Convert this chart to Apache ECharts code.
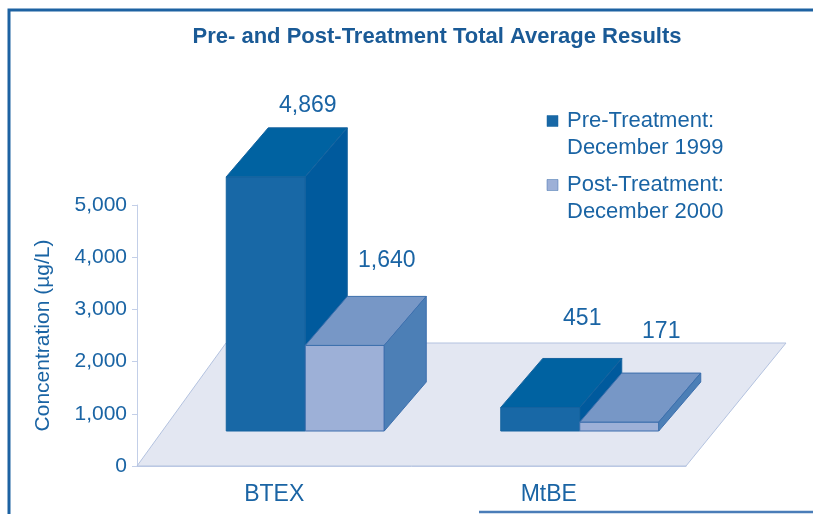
<!DOCTYPE html>
<html>
<head>
<meta charset="utf-8">
<script src="https://cdn.jsdelivr.net/npm/echarts@6/dist/echarts.min.js"></script>
<style>
  html, body { margin: 0; padding: 0; background: #fff; }
  #chart { width: 813px; height: 514px; }
</style>
</head>
<body>
<div id="chart"></div>
<script>
// values
const categories = ['BTEX', 'MtBE'];
const preValues = [4869, 451];
const postValues = [1640, 171];
const seriesNames = ['Pre-Treatment:\nDecember 1999', 'Post-Treatment:\nDecember 2000'];

const FONT = "'Liberation Sans', Arial, sans-serif";
const TXT = '#1a64a4';

// box look: [front, top, side, edge]
const boxColors = [
  ['#1868a6', '#0062a1', '#005a9d', '#15639f'],
  ['#9db0d7', '#7797c6', '#4c7fb6', '#3c6fad']
];
const boxShift = [-48, 31];   // front-left x from category centre
const BOX_W = 79, DX = 42, DY = -49, LIFT = 35;

const chart = echarts.init(document.getElementById('chart'));

function floorItem(params, api) {
  const cs = params.coordSys;
  const yb = cs.y + cs.height, xl = cs.x, xr = cs.x + cs.width;
  return {
    type: 'polygon',
    silent: true,
    shape: { points: [[xl, yb], [xr, yb], [xr + 100, yb - 123], [xl + 89, yb - 123]] },
    style: { fill: '#e3e7f2', stroke: '#b3c2df', lineWidth: 1 }
  };
}

function boxItem(params, api) {
  const s = params.seriesIndex - 1;
  const c = boxColors[s];
  const cat = api.value(0), v = api.value(1);
  const base = api.coord([cat, 0]);
  const top = api.coord([cat, v]);
  const x0 = base[0] + boxShift[s];
  const yb = base[1] - LIFT, yt = top[1] - LIFT;
  const x1 = x0 + BOX_W;
  const edge = { stroke: c[3], lineWidth: 1 };
  const labelGap = 42 - 0.0041 * v;
  return {
    type: 'group',
    children: [
      { type: 'rect', shape: { x: x0, y: yt, width: BOX_W, height: yb - yt },
        style: Object.assign({ fill: c[0] }, edge) },
      { type: 'polygon', shape: { points: [[x0, yt], [x1, yt], [x1 + DX, yt + DY], [x0 + DX, yt + DY]] },
        style: Object.assign({ fill: c[1] }, edge) },
      { type: 'polygon', shape: { points: [[x1, yt], [x1 + DX, yt + DY], [x1 + DX, yb + DY], [x1, yb]] },
        style: Object.assign({ fill: c[2] }, edge) },
      { type: 'text', style: {
          text: v.toLocaleString('en-US'), x: x0 + BOX_W / 2 + DX, y: yt + DY - labelGap,
          align: 'center', verticalAlign: 'middle', fill: TXT, font: '23px ' + FONT } }
    ]
  };
}

const legendGraphics = [];
[121, 185].forEach(function (cy, i) {
  legendGraphics.push({ type: 'rect', shape: { x: 547, y: cy - 5.5, width: 11, height: 11 },
    style: { fill: boxColors[i][0], stroke: boxColors[i][3], lineWidth: 0.5 } });
  legendGraphics.push({ type: 'text', style: { text: seriesNames[i], x: 567, y: cy - 13.5,
    fill: TXT, font: '22px ' + FONT, lineHeight: 27, verticalAlign: 'top' } });
});

chart.setOption({
  animation: false,
  grid: { left: 137, right: 127, top: 205, bottom: 48 },
  graphic: [
    { type: 'polyline', shape: { points: [[9, 514], [9, 10], [813, 10]] },
      style: { stroke: '#1d62a2', lineWidth: 3, fill: null } },
    { type: 'line', shape: { x1: 479, y1: 512, x2: 813, y2: 512 },
      style: { stroke: '#4a7db8', lineWidth: 2.5 } },
    { type: 'text', style: { text: 'Pre- and Post-Treatment Total Average Results', x: 437, y: 37,
      align: 'center', verticalAlign: 'middle', fill: '#1a5a96', font: 'bold 22px ' + FONT } }
  ].concat(legendGraphics),
  xAxis: {
    type: 'category',
    data: categories,
    axisLine: { lineStyle: { color: '#c3cfe8' } },
    axisTick: { length: 5, lineStyle: { color: '#c3cfe8' } },
    axisLabel: { color: TXT, fontSize: 23, fontFamily: FONT, margin: 17 }
  },
  yAxis: {
    type: 'value',
    min: 0, max: 5000, interval: 1000,
    name: 'Concentration (µg/L)',
    nameLocation: 'middle',
    nameGap: 83,
    nameTextStyle: { color: TXT, fontSize: 21, fontFamily: FONT },
    axisLine: { show: true, lineStyle: { color: '#c3cfe8' } },
    axisTick: { show: true, length: 5, lineStyle: { color: '#c3cfe8' } },
    splitLine: { show: false },
    axisLabel: { color: TXT, fontSize: 21, fontFamily: FONT, margin: 10,
      formatter: function (v) { return v.toLocaleString('en-US'); } }
  },
  series: [
    { type: 'custom', name: 'floor', renderItem: floorItem, data: [[0, 0]], z: 1, silent: true },
    { type: 'custom', name: seriesNames[0], renderItem: boxItem,
      data: preValues.map(function (v, i) { return [i, v]; }), encode: { x: 0, y: 1 }, z: 2 },
    { type: 'custom', name: seriesNames[1], renderItem: boxItem,
      data: postValues.map(function (v, i) { return [i, v]; }), encode: { x: 0, y: 1 }, z: 2 }
  ]
});
</script>
</body>
</html>
